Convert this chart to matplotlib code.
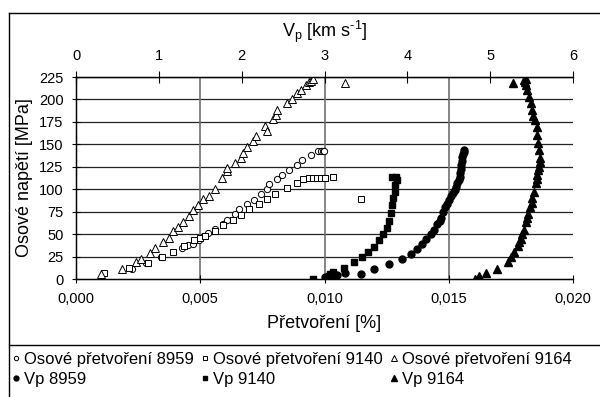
import numpy as np
import matplotlib
matplotlib.use("Agg")
import matplotlib.pyplot as plt
from matplotlib.lines import Line2D
from matplotlib.ticker import FuncFormatter

plt.rcParams['font.family'] = ['Liberation Sans', 'DejaVu Sans']

# osove pretvoreni (strain) vs. stress
eps_8959 = [0.00225, 0.00282, 0.00342, 0.00427, 0.0045, 0.0047, 0.00494, 0.00514, 0.0053, 0.00559,
            0.0059, 0.00609, 0.0064, 0.00657, 0.00687, 0.00716, 0.00743, 0.00767, 0.00778, 0.0081,
            0.00828, 0.00858, 0.00888, 0.00908, 0.00944, 0.00975, 0.00985, 0.00992, 0.00998]
sig_8959 = [11, 18, 24, 34, 37.5, 39.5, 44, 47.5, 51, 56,
            61, 66, 72, 78, 83, 88.5, 94.5, 100, 105.5, 111,
            116, 121, 127, 132.5, 138.5, 143, 143, 143, 143]

eps_9140 = [0.00114, 0.00215, 0.00288, 0.00346, 0.00392, 0.00435, 0.00476, 0.00499, 0.00519, 0.00559,
            0.0059, 0.0063, 0.00663, 0.00697, 0.00738, 0.00767, 0.008, 0.0085, 0.0089, 0.00915,
            0.00939, 0.00955, 0.0097, 0.00985, 0.01, 0.01033, 0.01146]
sig_9140 = [6.5, 12, 18, 24, 30.5, 37, 43, 46, 48, 54,
            60, 66, 71, 77.5, 83, 89.5, 95, 101.5, 106.5, 111.5,
            113, 113, 113, 113, 113, 114, 89.5]

eps_9164 = [0.00101, 0.00185, 0.00241, 0.0026, 0.00298, 0.00319, 0.0035, 0.00373, 0.00392, 0.00412,
            0.00432, 0.00453, 0.00472, 0.00491, 0.0051, 0.00536, 0.00559, 0.00586, 0.00609, 0.00609,
            0.0064, 0.00663, 0.00673, 0.00687, 0.00711, 0.00724, 0.0076, 0.0077, 0.00794, 0.00805,
            0.0081, 0.0085, 0.00868, 0.0089, 0.00904, 0.00926, 0.00936, 0.00945, 0.00955, 0.01083]
sig_9164 = [6, 11, 18.5, 22, 29, 34, 41, 46, 53, 58,
            64, 70, 77, 82, 89, 93, 100, 112, 120, 124,
            129, 135, 140, 147, 154, 159, 170, 165, 178, 183,
            188, 196, 200, 207, 211, 216, 219, 221, 223, 218.5]

# Vp (km/s) vs. stress
vp_8959 = [3.01, 3.09, 3.15, 3.25, 3.44, 3.6, 3.78, 3.93, 4.04, 4.12,
           4.18, 4.23, 4.28, 4.32, 4.36, 4.39, 4.41, 4.43, 4.46, 4.48,
           4.50, 4.53, 4.55, 4.57, 4.59, 4.60, 4.62, 4.635, 4.64, 4.65,
           4.65, 4.66, 4.66, 4.67, 4.68, 4.69]
vsig_8959 = [2, 3, 5, 6.7, 6, 11, 17, 22.7, 28, 33,
             38.7, 45, 50.5, 55, 61, 65, 68, 75, 80, 84,
             88, 92, 96, 99, 103, 106.5, 110, 114, 118, 123,
             127, 132, 136, 139, 142, 143.5]

vp_9140 = [2.86, 3.05, 3.07, 3.10, 3.23, 3.36, 3.45, 3.53, 3.6, 3.66,
           3.71, 3.75, 3.78, 3.8, 3.82, 3.83, 3.845, 3.855, 3.87, 3.82, 3.86]
vsig_9140 = [0.5, 3, 6, 8, 12.7, 19, 24.5, 30, 36, 43,
             50.5, 57, 64.5, 73, 82, 90, 97, 104.5, 110, 114, 114]

vp_9164 = [4.82, 4.87, 4.95, 5.08, 5.21, 5.25, 5.29, 5.33, 5.35, 5.37,
           5.39, 5.41, 5.43, 5.45, 5.46, 5.48, 5.50, 5.51, 5.53, 5.55,
           5.56, 5.57, 5.58, 5.59, 5.60, 5.60, 5.59, 5.58, 5.57, 5.56,
           5.54, 5.52, 5.50, 5.49, 5.47, 5.45, 5.43, 5.42, 5.41, 5.43, 5.28]
vsig_9164 = [0, 3, 6.5, 11.5, 19, 24, 30, 36.5, 41, 45,
             50, 55, 63.5, 68, 72, 80, 85, 90, 97, 106.5,
             111, 116, 121, 125, 130, 135, 143.5, 151, 160, 169.5,
             177, 182, 188, 196, 203, 211, 216, 220, 222, 223, 218.5]

fig = plt.figure(figsize=(6.0, 3.97), dpi=100)
ax = fig.add_axes([0.1267, 0.2972, 0.8283, 0.5088])
ax.set_xlim(0, 0.020)
ax.set_ylim(0, 225)
ax.set_xticks([0, 0.005, 0.010, 0.015, 0.020])
ax.set_yticks(np.arange(0, 226, 25))
ax.xaxis.set_major_formatter(FuncFormatter(lambda v, p: ('%.3f' % v).replace('.', ',')))
ax.tick_params(direction='inout', length=6, width=0.8, labelsize=10.5, pad=6)
for s in ax.spines.values():
    s.set_linewidth(1.0)
ax.spines['right'].set_visible(False)

for y in np.arange(25, 226, 25):
    ax.axhline(y, color='#222222', lw=0.9, zorder=0)
for x in [0.005, 0.010, 0.015]:
    ax.axvline(x, color='#6f6f6f', lw=1.2, zorder=0)

ms = 4.5
h1, = ax.plot(eps_8959, sig_8959, 'o', mfc='white', mec='black', mew=0.7, ms=ms, zorder=3)
h2, = ax.plot(eps_9140, sig_9140, 's', mfc='white', mec='black', mew=0.7, ms=ms, zorder=3)
h3, = ax.plot(eps_9164, sig_9164, '^', mfc='white', mec='black', mew=0.7, ms=ms + 1, zorder=3)

ax.set_xlabel('Přetvoření [%]', fontsize=13, labelpad=7)
ax.set_ylabel('Osové napětí [MPa]', fontsize=13, labelpad=4)

ax2 = ax.twiny()
ax2.set_xlim(0, 6)
ax2.set_xticks(range(7))
ax2.tick_params(direction='inout', length=8, width=0.8, labelsize=10.5, pad=6)
ax2.spines['right'].set_visible(False)
h4, = ax2.plot(vp_8959, vsig_8959, 'o', color='black', ms=ms + 0.5, zorder=3)
h5, = ax2.plot(vp_9140, vsig_9140, 's', color='black', ms=ms, zorder=3)
h6, = ax2.plot(vp_9164, vsig_9164, '^', color='black', ms=ms + 1, zorder=3)
ax2.set_xlabel('V$_\\mathregular{p}$ [km s$^\\mathregular{\u20101}$]', fontsize=13, labelpad=9)

# chart frame and legend box lines
fig.add_artist(Line2D([9 / 600, 9 / 600], [0, 1 - 13 / 397], color='black', lw=1.0))
fig.add_artist(Line2D([9 / 600, 1], [1 - 13 / 397, 1 - 13 / 397], color='black', lw=1.0))
fig.add_artist(Line2D([9 / 600, 1], [1 - 345 / 397, 1 - 345 / 397], color='black', lw=1.0))

handles = [h1, h4, h2, h5, h3, h6]
labels = ['Osové přetvoření 8959', 'Vp 8959', 'Osové přetvoření 9140', 'Vp 9140',
          'Osové přetvoření 9164', 'Vp 9164']
fig.legend(handles, labels, ncol=3, loc='lower left', bbox_to_anchor=(0.0, -0.005),
           frameon=False, fontsize=12, markerscale=0.7, handlelength=0.5, handletextpad=0.25,
           columnspacing=0.4, labelspacing=0.3, borderpad=0.2)

fig.savefig('out.png', dpi=100)
